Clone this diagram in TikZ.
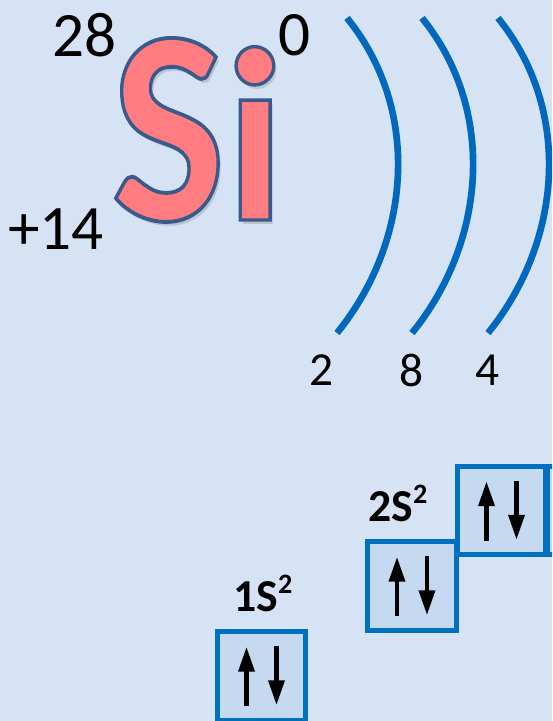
\documentclass[tikz,border=0pt]{standalone}
\usepackage{fontspec}
\setmainfont{Carlito}
\usetikzlibrary{arrows.meta,calc,positioning}
\definecolor{bgblue}{HTML}{D6E3F4}
\definecolor{cellfill}{HTML}{C5D9F1}
\definecolor{cellline}{HTML}{0070C0}
\definecolor{shellblue}{HTML}{0068BE}
\definecolor{sipink}{HTML}{FF7C80}
\definecolor{siline}{HTML}{3A5A8C}

\tikzset{
  cell/.style={draw=cellline,fill=cellfill,line width=2.6pt,minimum width=1.77cm,minimum height=1.77cm,inner sep=0pt},
  spin/.style={-{Triangle[length=14pt,width=9pt]},line width=2.3pt},
  shell/.style={draw=shellblue,line width=3.8pt},
  num/.style={font=\fontsize{36}{36}\selectfont,inner sep=0pt},
  cnt/.style={font=\fontsize{27}{27}\selectfont,inner sep=0pt},
  lbl/.style={font=\fontsize{26}{26}\selectfont\bfseries,inner sep=0pt,anchor=base west},
  symb/.style={font=\fontsize{158}{158}\selectfont\bfseries,inner sep=0pt,anchor=base west,xscale=0.87},
}
% text filled and stroked (render mode 2)
\newcommand\outlined[1]{\special{pdf:literal direct 2 Tr 2.2 w 0.227 0.353 0.549 RG}#1\special{pdf:literal direct 0 Tr}}
\newcommand\supr[1]{\raisebox{10pt}{\fontsize{16}{16}\selectfont #1}}
\newcommand\spinpair[1]{%
  \draw[spin] ($(#1)+(-15,30)$) -- ($(#1)+(-15,-29)$);
  \draw[spin] ($(#1)+(15,-30)$) -- ($(#1)+(15,29)$);}

\begin{document}
\begin{tikzpicture}[x=0.02cm,y=-0.02cm]
\useasboundingbox (0,0) rectangle (552,721);
\fill[bgblue] (0,0) rectangle (552,721);
\clip (0,0) rectangle (552,721);

% symbol with shadow and outline
\node[symb,text=black!45,opacity=0.35] (sishadow) at (114,224) {S\scalebox{1}[0.89]{i}};
\node[symb,text=sipink] (si) at (111,220) {\outlined{S\scalebox{1}[0.89]{i}}};

\node[num] (mass) at (84.5,35) {28};
\node[num] (charge) at (295,35) {0};
\node[num] (zeta) at (56,229) {+14};

% shells
\foreach \dx in {0,75,151}
  \draw[shell] (347+\dx,18) .. controls (421.5+\dx,109.6) and (411.5+\dx,241.4) .. (337+\dx,333);
\node[cnt] (k1) at (322,370) {2};
\node[cnt] (k2) at (412,370) {8};
\node[cnt] (k3) at (488,370) {4};

% orbitals
\node[cell] (s1) at (261.5,676) {};
\node[cell] (s2) at (412,586) {};
\node[cell] (p1) at (501.5,510.5) {};
\node[cell] (p2) at (592,510.5) {};
\node[lbl] (l1) at (233,611) {1S\supr{2}};
\node[lbl] (l2) at (368,521) {2S\supr{2}};
\spinpair{s1}
\spinpair{s2}
\spinpair{p1}
\end{tikzpicture}
\end{document}
